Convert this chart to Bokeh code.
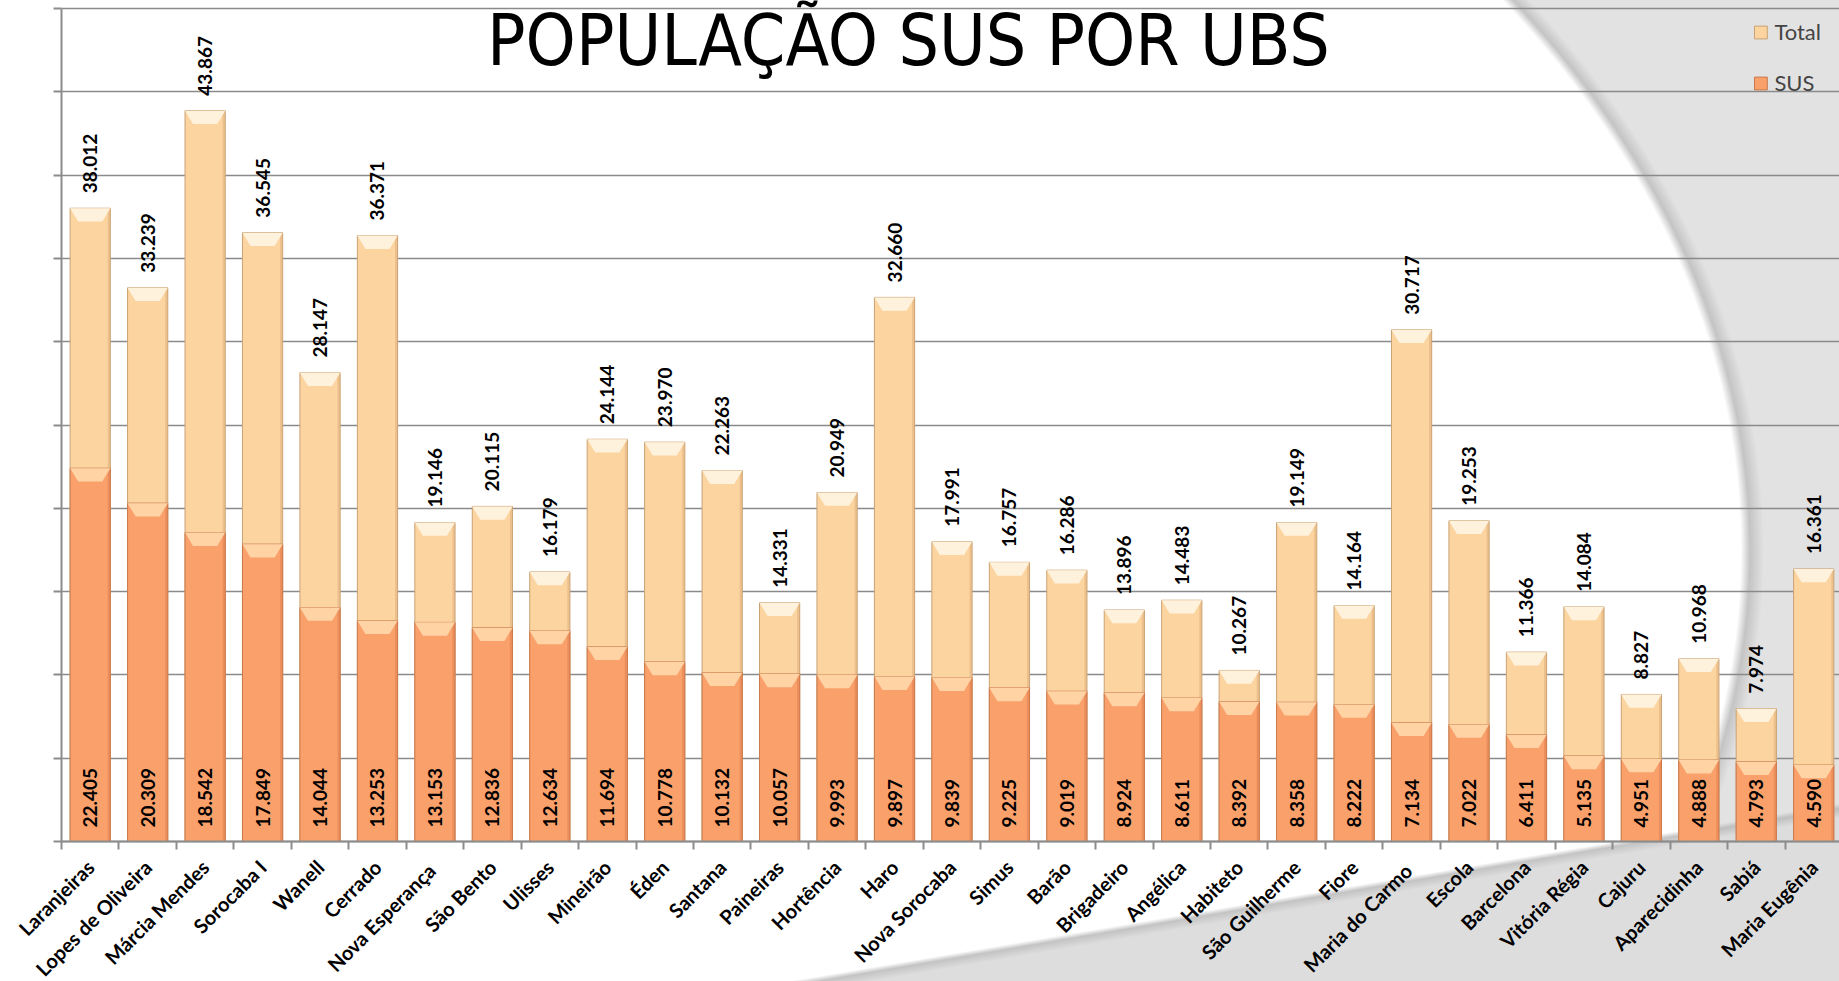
import numpy as np
from bokeh.plotting import figure
from bokeh.models import (ColumnDataSource, Range1d, FixedTicker, BoxAnnotation,
                          Legend, LegendItem, Label)
from bokeh.core.properties import value
from bokeh.embed import file_html
from bokeh.resources import INLINE

# ---------------- data ----------------
ubs = ["Laranjeiras", "Lopes de Oliveira", "Márcia Mendes", "Sorocaba I", "Wanell",
       "Cerrado", "Nova  Esperança", "São Bento", "Ulisses", "Mineirão", "Éden",
       "Santana", "Paineiras", "Hortência", "Haro", "Nova Sorocaba", "Simus", "Barão",
       "Brigadeiro", "Angélica", "Habiteto", "São Guilherme", "Fiore", "Maria do  Carmo",
       "Escola", "Barcelona", "Vitória Régia", "Cajuru", "Aparecidinha", "Sabiá",
       "Maria Eugênia"]
total = [38012, 33239, 43867, 36545, 28147, 36371, 19146, 20115, 16179, 24144, 23970,
         22263, 14331, 20949, 32660, 17991, 16757, 16286, 13896, 14483, 10267, 19149,
         14164, 30717, 19253, 11366, 14084, 8827, 10968, 7974, 16361]
sus = [22405, 20309, 18542, 17849, 14044, 13253, 13153, 12836, 12634, 11694, 10778,
       10132, 10057, 9993, 9897, 9839, 9225, 9019, 8924, 8611, 8392, 8358, 8222, 7134,
       7022, 6411, 5135, 4951, 4888, 4793, 4590]
series_names = ["Total", "SUS"]
title_text = "POPULAÇÃO SUS POR UBS"
y_max = 50000
y_step = 5000


def br(v):
    return f"{v:,}".replace(",", ".")


n = len(ubs)
W, H = 1839, 981
AX_X = 61          # px of the value axis
BAND = 57.45       # px per category
TOP = 8            # px of the 50.000 gridline
BASE = 841         # px of the zero line
FONT = "Lato"
centers = [i + 0.5 for i in range(n)]

ppu = (BASE - TOP) / y_max
x_lo = -AX_X / BAND
x_hi = (W - AX_X) / BAND
y_lo = -(H - BASE) / ppu
y_hi = y_max + TOP / ppu

src = ColumnDataSource(dict(
    xc=centers, ubs=ubs, total=total, sus=sus,
    total_lbl=[br(v) for v in total],
    sus_lbl=[br(v) for v in sus],
))

p = figure(x_range=Range1d(x_lo, x_hi), y_range=Range1d(y_lo, y_hi), width=W, height=H,
           output_backend="svg", toolbar_location=None,
           min_border_left=0, min_border_right=0, min_border_top=0,
           min_border_bottom=0)
p.background_fill_color = None
p.border_fill_color = None
p.outline_line_color = None
p.styles = {
    "background":
        "linear-gradient(170.4deg, rgba(255,255,255,0) 0px, rgba(255,255,255,0) 1099px, "
        "rgba(185,185,185,0.85) 1104px, #dddddd 1113px, #dddddd 100%), "
        "radial-gradient(ellipse 1550px 1035px at 200px 550px, #ffffff 0%, #ffffff 99.4%, "
        "#c4c4c4 100%, #e2e2e2 100.9%, #e2e2e2 200%)"
}

# gridlines only from the value axis to the right
ygrid_ticks = list(range(0, y_max + 1, y_step))
grid = p.ygrid[0]
grid.grid_line_color = "#8a8a8a"
grid.grid_line_width = 1.6
if "cross_bounds" in grid.properties():
    grid.cross_bounds = (0, x_hi)
else:
    p.add_layout(BoxAnnotation(right=0, fill_color="white", fill_alpha=1,
                               line_alpha=0, level="underlay"))
p.xgrid.visible = False

# value axis: ticks only, no labels
ya = p.yaxis[0]
ya.fixed_location = 0
ya.ticker = FixedTicker(ticks=ygrid_ticks, minor_ticks=[])
ya.major_label_overrides = {t: "" for t in ygrid_ticks}
ya.bounds = (0, y_max)
ya.major_tick_out = 8
ya.major_tick_in = 0
ya.axis_line_color = "#8c8c8c"
ya.axis_line_width = 2
ya.major_tick_line_color = "#8c8c8c"
ya.major_tick_line_width = 2

# category axis on the zero line: labels at band centres, tick marks between bands
xa = p.xaxis[0]
xa.fixed_location = 0
xa.bounds = (0, n)
xa.ticker = FixedTicker(ticks=centers, minor_ticks=list(range(n + 1)))
xa.major_label_overrides = {t: name for t, name in zip(centers, ubs)}
xa.major_label_orientation = np.pi / 4
xa.major_label_text_font = FONT
xa.major_label_text_font_style = "bold"
xa.major_label_text_font_size = "20px"
xa.major_label_text_color = "black"
xa.major_label_standoff = 14
xa.major_tick_out = 0
xa.major_tick_in = 0
xa.minor_tick_out = 8
xa.minor_tick_in = 0
xa.minor_tick_line_color = "#8c8c8c"
xa.minor_tick_line_width = 2
xa.axis_line_color = "#8c8c8c"
xa.axis_line_width = 2

BW = 0.7
BEV_H = 800
BEV_IN = 0.14
EDGE = 0.045

r_total = p.vbar(x="xc", top="total", width=BW, source=src,
                 fill_color="#FCD4A0", line_color="#C9A274", line_width=1)
# subtle side shading
p.vbar(x=[c + BW / 2 - EDGE / 2 for c in centers], top=total, width=EDGE,
       fill_color="#D9A873", fill_alpha=0.45, line_color=None)
xs_t, ys_t = [], []
for c, t in zip(centers, total):
    xs_t.append([c - BW / 2, c + BW / 2, c + BW / 2 - BEV_IN, c - BW / 2 + BEV_IN])
    ys_t.append([t, t, t - BEV_H, t - BEV_H])
p.patches(xs_t, ys_t, fill_color="#FFF2DC", line_color=None)

r_sus = p.vbar(x="xc", top="sus", width=BW, source=src,
               fill_color="#F9A06B", line_color="#C97A4C", line_width=1)
p.vbar(x=[c + BW / 2 - EDGE / 2 for c in centers], top=sus, width=EDGE,
       fill_color="#D9784A", fill_alpha=0.45, line_color=None)
xs_s, ys_s = [], []
for c, s in zip(centers, sus):
    xs_s.append([c - BW / 2, c + BW / 2, c + BW / 2 - BEV_IN, c - BW / 2 + BEV_IN])
    ys_s.append([s, s, s - BEV_H, s - BEV_H])
p.patches(xs_s, ys_s, fill_color="#FFD3A4", line_color=None)

# value labels
p.text(x="xc", y="total", text="total_lbl", source=src, angle=np.pi / 2,
       text_align="left", text_baseline="middle", y_offset=-15,
       text_font=value(FONT), text_font_style="bold", text_font_size="19px",
       text_color="black")
p.text(x="xc", y=0, text="sus_lbl", source=src, angle=np.pi / 2,
       text_align="left", text_baseline="middle", y_offset=-14,
       text_font=value(FONT), text_font_style="bold", text_font_size="19px",
       text_color="black")

# title (centre of the text box at ~40 px from the top)
p.add_layout(Label(x=(908 - AX_X) / BAND, y=(BASE - 40) / ppu, text=title_text,
                   text_font="DejaVu Sans Condensed, Roboto, sans-serif",
                   text_font_size="71px",
                   text_align="center", text_baseline="middle",
                   text_color="black"))

legend = Legend(items=[LegendItem(label=series_names[0], renderers=[r_total]),
                       LegendItem(label=series_names[1], renderers=[r_sus])],
                location="top_right", glyph_width=16, glyph_height=16,
                label_text_font=FONT, label_text_font_size="22px",
                label_height=24, label_standoff=6, spacing=24, padding=0,
                margin=18, background_fill_alpha=0, border_line_alpha=0)
p.add_layout(legend)

open("out.html", "w").write(file_html(p, INLINE))
